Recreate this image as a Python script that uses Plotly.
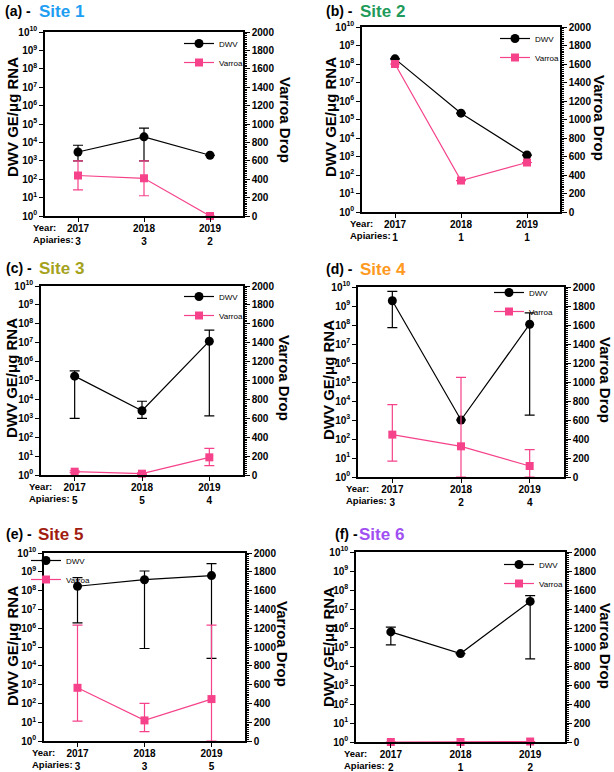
import plotly.graph_objects as go

W, H = 614, 772
FONT = "Liberation Sans, Arial, Helvetica, sans-serif"
PINK = "#F5428A"

years = [2017, 2018, 2019]

# ---- data ----
site_names = ["Site 1", "Site 2", "Site 3", "Site 4", "Site 5", "Site 6"]
panel_labels = ["(a) -", "(b) -", "(c) -", "(d) -", "(e) -", "(f) -"]
site_colors = ["#1E9EF2", "#1E9A5A", "#A5A21C", "#FF9A1E", "#A01C10", "#A050F2"]

apiaries_1 = [3, 3, 2]
apiaries_2 = [1, 1, 1]
apiaries_3 = [5, 5, 4]
apiaries_4 = [3, 2, 4]
apiaries_5 = [3, 3, 5]
apiaries_6 = [2, 1, 2]

# DWV GE/ug RNA: mean, upper error bound, lower error bound
dwv_1 = [3e3, 2e4, 2e3]
dwv_hi_1 = [7e3, 6e4, 2e3]
dwv_lo_1 = [1e3, 1e3, 2e3]
dwv_2 = [1.9e8, 2.2e5, 1.2e3]
dwv_hi_2 = [1.9e8, 2.2e5, 1.2e3]
dwv_lo_2 = [1.9e8, 2.2e5, 1.2e3]
dwv_3 = [1.7e5, 2.5e3, 1.2e7]
dwv_hi_3 = [3.2e5, 8e3, 4.6e7]
dwv_lo_3 = [1e3, 1e3, 1.35e3]
dwv_4 = [1.9e9, 1e3, 1.1e8]
dwv_hi_4 = [5.9e9, 1e3, 4.3e8]
dwv_lo_4 = [7.2e7, 1e3, 1.8e3]
dwv_5 = [1.7e8, 3.8e8, 6.3e8]
dwv_hi_5 = [4.9e8, 1.1e9, 2.7e9]
dwv_lo_5 = [1.9e6, 8.3e4, 2.5e4]
dwv_6 = [6.2e5, 4.5e4, 2.5e7]
dwv_hi_6 = [1.1e6, 4.5e4, 5e7]
dwv_lo_6 = [1.3e5, 4.5e4, 2.4e4]

# Varroa drop: mean, upper error bound, lower error bound
var_1 = [440, 410, 0]
var_hi_1 = [600, 600, 0]
var_lo_1 = [285, 220, 0]
var_2 = [1600, 340, 535]
var_hi_2 = [1600, 340, 535]
var_lo_2 = [1600, 340, 535]
var_3 = [35, 14, 187]
var_hi_3 = [45, 22, 282]
var_lo_3 = [25, 6, 99]
var_4 = [446, 323, 116]
var_hi_4 = [761, 1049, 288]
var_lo_4 = [168, 0, 0]
var_5 = [566, 219, 446]
var_hi_5 = [1232, 400, 1232]
var_lo_5 = [212, 99, 0]
var_6 = [0, 0, 5]
var_hi_6 = [0, 0, 5]
var_lo_6 = [0, 0, 5]

dwv_tickvals = [1, 10, 1e2, 1e3, 1e4, 1e5, 1e6, 1e7, 1e8, 1e9, 1e10]
dwv_ticktext = ["10<sup>%d</sup>" % k for k in range(11)]
varroa_tickvals = [0, 200, 400, 600, 800, 1000, 1200, 1400, 1600, 1800, 2000]

panels = [
    dict(dwv=dwv_1, hi=dwv_hi_1, lo=dwv_lo_1, v=var_1, vhi=var_hi_1, vlo=var_lo_1, ap=apiaries_1),
    dict(dwv=dwv_2, hi=dwv_hi_2, lo=dwv_lo_2, v=var_2, vhi=var_hi_2, vlo=var_lo_2, ap=apiaries_2),
    dict(dwv=dwv_3, hi=dwv_hi_3, lo=dwv_lo_3, v=var_3, vhi=var_hi_3, vlo=var_lo_3, ap=apiaries_3),
    dict(dwv=dwv_4, hi=dwv_hi_4, lo=dwv_lo_4, v=var_4, vhi=var_hi_4, vlo=var_lo_4, ap=apiaries_4),
    dict(dwv=dwv_5, hi=dwv_hi_5, lo=dwv_lo_5, v=var_5, vhi=var_hi_5, vlo=var_lo_5, ap=apiaries_5),
    dict(dwv=dwv_6, hi=dwv_hi_6, lo=dwv_lo_6, v=var_6, vhi=var_hi_6, vlo=var_lo_6, ap=apiaries_6),
]

# ---- layout geometry (pixels) ----
boxes = [  # x0, x1, ytop, ybottom
    (45, 243, 32, 216),
    (362, 560, 27, 212),
    (41, 243, 286, 475),
    (358, 564, 287, 477),
    (44, 245, 553, 741),
    (356, 565, 552, 742),
]
title_pos = [  # label x, site x, y center
    (3, 37, 11), (324, 358, 11), (4, 37, 268), (324, 358, 269), (4, 36, 534), (333, 357, 534),
]
ytitle_pos = [(13, 117), (331, 117), (11, 378), (328, 380), (12, 646), (328, 647)]
y2title_pos = [(286, 120), (599, 118), (285, 378), (606, 380), (283, 644), (606, 646)]
legend_pos = [(204, 41), (520, 36), (204, 294), (514, 290), (51, 558), (524, 562)]


def px(x):
    return x / W


def py(y):
    return 1 - y / H


fig = go.Figure()
layout = dict(
    width=W, height=H, margin=dict(l=0, r=0, t=0, b=0, autoexpand=False),
    paper_bgcolor="white", plot_bgcolor="white", showlegend=True,
    font=dict(family=FONT, color="black"),
)
annotations = []

for i, p in enumerate(panels):
    n = i + 1
    xa = "x" if n == 1 else "x%d" % n
    ya = "y%d" % (2 * n - 1) if n > 1 else "y"
    yb = "y%d" % (2 * n)
    leg = "legend" if n == 1 else "legend%d" % n
    x0, x1, yt, ybm = boxes[i]

    fig.add_trace(go.Scatter(
        x=years, y=p["dwv"], xaxis=xa, yaxis=ya, name="DWV", legend=leg,
        mode="lines+markers", cliponaxis=False,
        line=dict(color="black", width=1.2),
        marker=dict(symbol="circle", size=9, color="black"),
        error_y=dict(type="data", symmetric=False,
                     array=[h - m for h, m in zip(p["hi"], p["dwv"])],
                     arrayminus=[m - l for m, l in zip(p["dwv"], p["lo"])],
                     color="black", thickness=1.2, width=5),
    ))
    fig.add_trace(go.Scatter(
        x=years, y=p["v"], xaxis=xa, yaxis=yb, name="Varroa", legend=leg,
        mode="lines+markers", cliponaxis=False,
        line=dict(color=PINK, width=1.2),
        marker=dict(symbol="square", size=8, color=PINK),
        error_y=dict(type="data", symmetric=False,
                     array=[h - m for h, m in zip(p["vhi"], p["v"])],
                     arrayminus=[m - l for m, l in zip(p["v"], p["vlo"])],
                     color=PINK, thickness=1.2, width=5),
    ))

    xkey = "xaxis" if n == 1 else "xaxis%d" % n
    ykey = "yaxis" if n == 1 else "yaxis%d" % (2 * n - 1)
    y2key = "yaxis%d" % (2 * n)
    tickfont = dict(family=FONT, size=10, color="black", weight="bold")

    layout[xkey] = dict(
        domain=[px(x0), px(x1)], anchor=ya, range=[2016.5, 2019.5],
        tickvals=years, ticktext=["%d<br>%d" % (yr, a) for yr, a in zip(years, p["ap"])],
        ticks="outside", ticklen=4, tickwidth=1.3, tickcolor="black",
        ticklabelstandoff=-2,
        showline=True, linecolor="black", linewidth=1.5, mirror=True,
        showgrid=False, zeroline=False, tickfont=tickfont, fixedrange=True,
    )
    layout[ykey] = dict(
        domain=[py(ybm), py(yt)], anchor=xa, type="log", range=[0, 10],
        tickvals=dwv_tickvals, ticktext=dwv_ticktext,
        ticks="outside", ticklen=4, tickwidth=1.3, tickcolor="black",
        showline=True, linecolor="black", linewidth=1.5,
        showgrid=False, zeroline=False, tickfont=tickfont,
    )
    layout[y2key] = dict(
        domain=[py(ybm), py(yt)], anchor=xa, overlaying=ya, side="right",
        range=[0, 2000], tickvals=varroa_tickvals,
        ticks="outside", ticklen=5, tickwidth=1.3, tickcolor="black",
        minor=dict(dtick=20, ticks="outside", ticklen=2.5, tickwidth=1, tickcolor="black"),
        showline=True, linecolor="black", linewidth=1.5,
        showgrid=False, zeroline=False, tickfont=tickfont,
    )
    lx, ly = legend_pos[i]
    layout[leg] = dict(
        x=px(lx - 25), y=py(ly - 12), xanchor="left", yanchor="top",
        bgcolor="rgba(0,0,0,0)", font=dict(family=FONT, size=8, color="black"),
        itemwidth=30, tracegroupgap=0,
    )

    tx, sx, ty = title_pos[i]
    annotations.append(dict(
        text="<b>%s</b>" % panel_labels[i], x=px(tx), y=py(ty), xref="paper", yref="paper",
        xanchor="left", yanchor="middle", showarrow=False,
        font=dict(family=FONT, size=14, color="black")))
    annotations.append(dict(
        text="<b>%s</b>" % site_names[i], x=px(sx), y=py(ty), xref="paper", yref="paper",
        xanchor="left", yanchor="middle", showarrow=False,
        font=dict(family=FONT, size=17, color=site_colors[i])))
    ax_, ay_ = ytitle_pos[i]
    annotations.append(dict(
        text="<b>DWV GE/μg RNA</b>", x=px(ax_), y=py(ay_), xref="paper", yref="paper",
        xanchor="center", yanchor="middle", textangle=-90, showarrow=False,
        font=dict(family=FONT, size=15, color="black")))
    bx, by = y2title_pos[i]
    annotations.append(dict(
        text="<b>Varroa Drop</b>", x=px(bx), y=py(by), xref="paper", yref="paper",
        xanchor="center", yanchor="middle", textangle=90, showarrow=False,
        font=dict(family=FONT, size=15, color="black")))
    annotations.append(dict(
        text="<b>Year:</b><br><b>Apiaries:</b>", x=px(x0 - 14), y=py(ybm + 4),
        xref="paper", yref="paper", xanchor="left", yanchor="top", align="left",
        showarrow=False, font=dict(family=FONT, size=9.5, color="black")))

layout["annotations"] = annotations
fig.update_layout(**layout)
fig.write_html(
    "out.html",
    config={"displayModeBar": False},
    post_script="document.body.style.margin='0';document.body.style.overflow='hidden';",
)
